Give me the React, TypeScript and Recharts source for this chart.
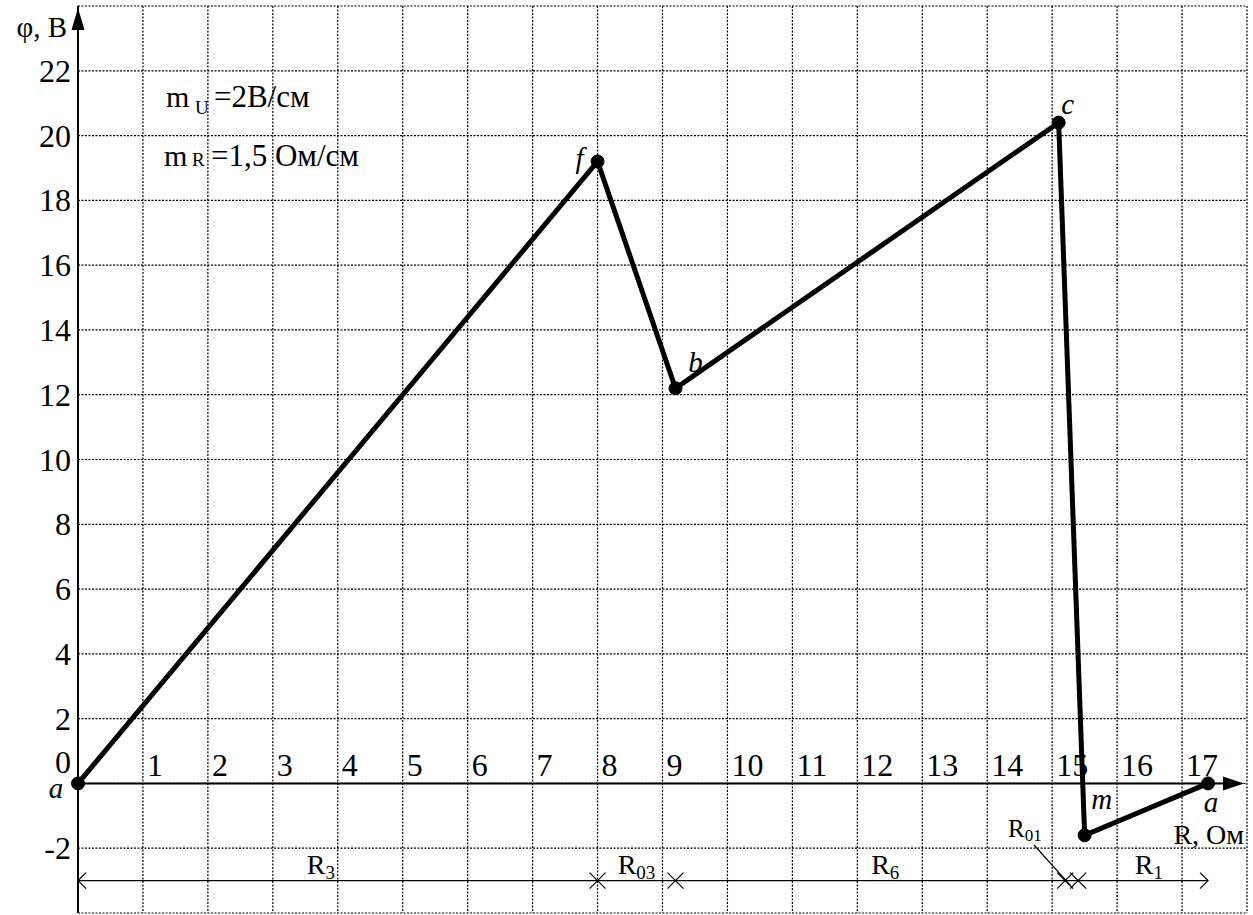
import React from 'react';
import {
  LineChart,
  Line,
  XAxis,
  YAxis,
  CartesianGrid,
  ReferenceLine,
  ReferenceDot
} from 'recharts';

// Потенциальная диаграмма контура a-f-b-c-m-a
const pointNames = ['a', 'f', 'b', 'c', 'm', 'a'];
const resistance = [0, 8, 9.2, 15.1, 15.5, 17.4]; // R, Ом (нарастающим итогом)
const potential = [0, 19.2, 12.2, 20.4, -1.6, 0]; // φ, В

const xTicks = [1, 2, 3, 4, 5, 6, 7, 8, 9, 10, 11, 12, 13, 14, 15, 16, 17];
const yTicks = [-2, 0, 2, 4, 6, 8, 10, 12, 14, 16, 18, 20, 22];
const gridX = [0, 1, 2, 3, 4, 5, 6, 7, 8, 9, 10, 11, 12, 13, 14, 15, 16, 17, 18];
const gridY = [-4, -2, 0, 2, 4, 6, 8, 10, 12, 14, 16, 18, 20, 22, 24];

// границы участков на размерной линии
const sectionMarks = [8, 9.2, 15.2, 15.4];
const sectionEnd = 17.4;
const dimLevel = -3;

const data = resistance.map((r, i) => ({ r, phi: potential[i], name: pointNames[i] }));

const serif = 'Liberation Serif';

// смещения подписей точек в пикселях
const NAME_OFFSETS = [
  [-22, 15],
  [-18, 7],
  [20, -16],
  [9, -9],
  [17, -26],
  [3, 29]
];

const at = (key: string, x: number, y: number, draw: (cx: number, cy: number) => React.ReactNode) => (
  <ReferenceDot
    key={key}
    x={x}
    y={y}
    r={0}
    ifOverflow="visible"
    isFront
    shape={(p: any) => <g>{draw(p.cx, p.cy)}</g>}
  />
);

const EmptyTick = () => <g />;

const YTick = ({ x, y, payload }: any) => {
  const v = payload.value;
  if (yTicks.indexOf(v) < 0) return <g />;
  return (
    <text x={x - 7} y={v === 0 ? y - 10 : y + 11} textAnchor="end" fontFamily={serif} fontSize={32} fill="#000">
      {v}
    </text>
  );
};

const SubText = ({ x, y, main, sub, size = 28, subSize = 19, subDy = 5 }: any) => (
  <text x={x} y={y} textAnchor="middle" fontFamily={serif} fontSize={size} fill="#000">
    {main}
    <tspan fontSize={subSize} dy={subDy}>{sub}</tspan>
  </text>
);

export default function App() {
  return (
    <div style={{ position: 'absolute', left: 0, top: 0, width: 1253, height: 915, background: '#fff' }}>
      <LineChart
        width={1253}
        height={915}
        data={data}
        margin={{ top: 6, right: 6, bottom: 2, left: 0 }}
        style={{ fontFamily: 'Liberation Serif, serif' }}
      >
        <CartesianGrid stroke="#000" strokeWidth={1.2} strokeDasharray="2 1.5" />
        <XAxis
          dataKey="r"
          type="number"
          domain={[0, 18]}
          ticks={gridX}
          height={0}
          tick={<EmptyTick />}
          axisLine={false}
          tickLine={false}
          interval={0}
        />
        <YAxis
          type="number"
          domain={[-4, 24]}
          ticks={gridY}
          width={78}
          interval={0}
          axisLine={false}
          tickLine={false}
          tickSize={0}
          tickMargin={0}
          tick={<YTick />}
        />

        {/* оси */}
        <ReferenceLine x={0} stroke="#000" strokeWidth={2} />
        <ReferenceLine segment={[{ x: 0, y: 0 }, { x: 17.7, y: 0 }]} stroke="#000" strokeWidth={2} />

        {/* размерная линия */}
        <ReferenceLine
          segment={[{ x: 0, y: dimLevel }, { x: sectionEnd, y: dimLevel }]}
          stroke="#000"
          strokeWidth={1.2}
        />
        <ReferenceLine segment={[{ x: 14.72, y: -1.9 }, { x: 15.28, y: -3.15 }]} stroke="#000" strokeWidth={1.2} />

        <Line
          dataKey="phi"
          type="linear"
          stroke="#000"
          strokeWidth={5}
          dot={{ r: 6.5, fill: '#000', stroke: '#000', strokeWidth: 1 }}
          activeDot={false}
          isAnimationActive={false}
        />

        {/* стрелки осей */}
        {at('yArrow', 0, 24, (cx, cy) => (
          <polygon points={`${cx},${cy + 2} ${cx - 6.5},${cy + 24} ${cx + 6.5},${cy + 24}`} fill="#000" />
        ))}
        {at('xArrow', 18, 0, (cx, cy) => (
          <polygon points={`${cx - 3},${cy} ${cx - 24},${cy - 7} ${cx - 24},${cy + 7}`} fill="#000" />
        ))}

        {/* подписи осей */}
        {at('yTitle', 0, 24, (cx, cy) => (
          <text x={cx - 11} y={cy + 31} textAnchor="end" fontFamily={serif} fontSize={29} fill="#000">
            φ, В
          </text>
        ))}
        {at('xTitle', 18, 0, (cx, cy) => (
          <text x={cx - 3} y={cy + 61} textAnchor="end" fontFamily={serif} fontSize={28} fill="#000">
            R, Ом
          </text>
        ))}

        {/* подписи оси R */}
        {xTicks.map((v) =>
          at(`xt${v}`, v, 0, (cx, cy) => (
            <text x={cx + 4} y={cy - 7.5} fontFamily={serif} fontSize={32} fill="#000">
              {v}
            </text>
          ))
        )}

        {/* масштабы */}
        {at('mu', 1, 21, (cx, cy) => (
          <g>
            <text x={cx + 23} y={cy + 3.5} fontFamily={serif} fontSize={30} fill="#000">m</text>
            <text x={cx + 52} y={cy + 11} fontFamily={serif} fontSize={19} fill="#000">U</text>
            <text x={cx + 71} y={cy + 3.5} fontFamily={serif} fontSize={31} fill="#000">=2В/см</text>
          </g>
        ))}
        {at('mr', 1, 19, (cx, cy) => (
          <g>
            <text x={cx + 21} y={cy - 2} fontFamily={serif} fontSize={30} fill="#000">m</text>
            <text x={cx + 49} y={cy - 2} fontFamily={serif} fontSize={19} fill="#000">R</text>
            <text x={cx + 68} y={cy - 2} fontFamily={serif} fontSize={31} fill="#000">=1,5 Ом/см</text>
          </g>
        ))}

        {/* имена точек */}
        {data.map((d, i) =>
          at(`pn${i}`, d.r, d.phi, (cx, cy) => (
            <text
              x={cx + NAME_OFFSETS[i][0]}
              y={cy + NAME_OFFSETS[i][1]}
              textAnchor="middle"
              fontFamily={serif}
              fontStyle="italic"
              fontSize={29}
              fill="#000"
            >
              {d.name}
            </text>
          ))
        )}

        {/* концы размерной линии и засечки */}
        {at('dimL', 0, dimLevel, (cx, cy) => (
          <polyline points={`${cx + 8},${cy - 8} ${cx},${cy} ${cx + 8},${cy + 8}`} fill="none" stroke="#000" strokeWidth={1.2} />
        ))}
        {at('dimR', sectionEnd, dimLevel, (cx, cy) => (
          <polyline points={`${cx - 8},${cy - 8} ${cx},${cy} ${cx - 8},${cy + 8}`} fill="none" stroke="#000" strokeWidth={1.2} />
        ))}
        {sectionMarks.map((v, i) =>
          at(`mark${i}`, v, dimLevel, (cx, cy) => (
            <path
              d={`M${cx - 8},${cy - 8}L${cx + 8},${cy + 8}M${cx - 8},${cy + 8}L${cx + 8},${cy - 8}`}
              stroke="#000"
              strokeWidth={1.2}
            />
          ))
        )}

        {/* участки */}
        {at('r3', 3.74, dimLevel, (cx, cy) => <SubText x={cx} y={cy - 7} main="R" sub="3" />)}
        {at('r03', 8.6, dimLevel, (cx, cy) => <SubText x={cx} y={cy - 7} main="R" sub="03" />)}
        {at('r6', 12.43, dimLevel, (cx, cy) => <SubText x={cx} y={cy - 7} main="R" sub="6" />)}
        {at('r1', 16.49, dimLevel, (cx, cy) => <SubText x={cx} y={cy - 7} main="R" sub="1" />)}
        {at('r01', 14.32, dimLevel, (cx, cy) => (
          <text x={cx} y={cy - 44} fontFamily={serif} fontSize={25} fill="#000">
            R<tspan fontSize={17} dy={4}>01</tspan>
          </text>
        ))}
      </LineChart>
    </div>
  );
}
